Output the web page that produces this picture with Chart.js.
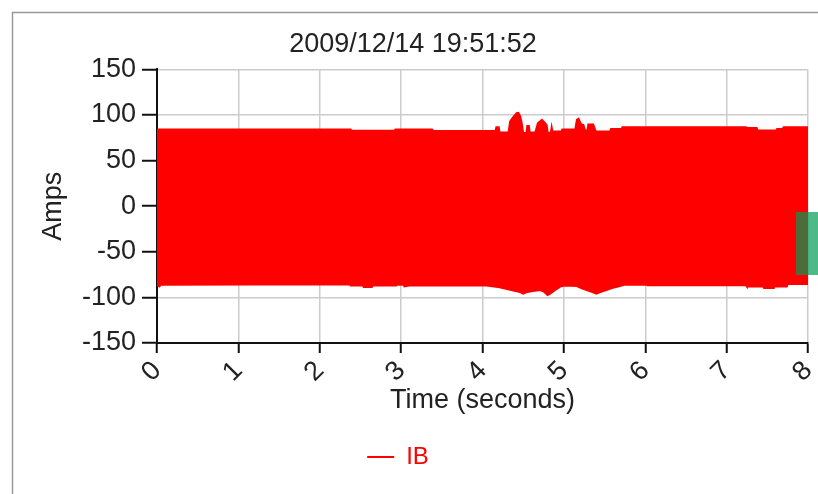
<!DOCTYPE html>
<html>
<head>
<meta charset="utf-8">
<script src="https://cdn.jsdelivr.net/npm/chart.js@4.4.1/dist/chart.umd.min.js"></script>
<style>
  html, body { margin: 0; padding: 0; background: #fff; }
  #wrap { width: 818px; height: 494px; position: relative; }
</style>
</head>
<body>
<div id="wrap"><canvas id="c" width="818" height="494"></canvas></div>
<script>
// ---- data (envelope of the IB current waveform) ----
const chartTitle = '2009/12/14 19:51:52';
const seriesName = 'IB';
const xTickValues = [0, 1, 2, 3, 4, 5, 6, 7, 8];
const yTickValues = [-150, -100, -50, 0, 50, 100, 150];

// upper envelope (positive peaks)
const topTimes  = [0, 2.38, 2.39, 2.92, 2.93, 3.38, 3.39, 4.16, 4.17, 4.20, 4.21, 4.32, 4.34, 4.38, 4.42, 4.44, 4.46, 4.48, 4.50, 4.54, 4.55, 4.57, 4.58, 4.65, 4.68, 4.73, 4.77, 4.79, 4.80, 4.84, 4.85, 4.86, 4.97, 4.98, 5.14, 5.16, 5.18, 5.21, 5.24, 5.26, 5.29, 5.30, 5.36, 5.38, 5.39, 5.57, 5.58, 5.71, 5.72, 7.24, 7.25, 7.37, 7.38, 7.61, 7.62, 7.69, 7.70, 8.0];
const topValues = [84, 84, 82.6, 82.6, 84, 84, 82.5, 82.5, 86.5, 86.5, 80.7, 81, 93, 98, 102, 102.4, 99.4, 92, 80.3, 80.5, 88, 88, 80.5, 81, 91, 94.6, 91, 88.4, 80.5, 80.5, 86.5, 82, 82, 84, 84, 94.6, 95.8, 90, 89, 83, 83, 89.5, 89.5, 84.7, 82, 82, 84.7, 84.7, 86.5, 86.5, 85.8, 85.8, 83, 83, 84.7, 84.7, 86.5, 86.5];

// lower envelope (negative peaks)
const bottomTimes  = [0, 0.03, 0.05, 2.37, 2.38, 2.53, 2.54, 2.64, 2.65, 2.94, 2.95, 3.03, 3.04, 3.10, 3.97, 4.05, 4.21, 4.34, 4.46, 4.50, 4.55, 4.62, 4.71, 4.76, 4.80, 4.83, 4.89, 4.95, 5.00, 5.16, 5.22, 5.28, 5.36, 5.40, 5.45, 5.52, 5.60, 5.69, 5.75, 6.02, 6.03, 7.24, 7.25, 7.45, 7.46, 7.57, 7.58, 7.74, 7.75, 8.0];
const bottomValues = [-86, -88, -86, -85.5, -87, -87, -88.6, -88.6, -87, -87, -86, -86, -88, -87, -87, -87, -89, -91.5, -94, -96, -94, -93, -92, -94, -97.5, -96, -92, -88.5, -87, -87.5, -90, -92, -94.5, -96, -94, -92, -89.5, -87.5, -86, -86, -86.8, -86.8, -88, -88, -89.7, -89.7, -88, -88, -85.3, -85.3];

const FONT = "'Liberation Sans', Arial, sans-serif";
const RED = '#ff0000';

const topPoints = topTimes.map((t, i) => ({ x: t, y: topValues[i] }));
const bottomPoints = bottomTimes.map((t, i) => ({ x: t, y: bottomValues[i] }));

const framePlugin = {
  id: 'frame',
  beforeDraw(chart) {
    const ctx = chart.ctx;
    ctx.save();
    ctx.fillStyle = '#ffffff';
    ctx.fillRect(0, 0, chart.width, chart.height);
    ctx.strokeStyle = '#9a9a9a';
    ctx.lineWidth = 1.5;
    ctx.beginPath();
    ctx.moveTo(12.5, chart.height);
    ctx.lineTo(12.5, 12.5);
    ctx.lineTo(chart.width, 12.5);
    ctx.stroke();
    ctx.restore();
  }
};

// green handle at right edge of the window
const handlePlugin = {
  id: 'handle',
  afterDraw(chart) {
    const ctx = chart.ctx;
    ctx.save();
    ctx.fillStyle = 'rgba(0,155,82,0.7)';
    ctx.fillRect(796, 212, 22, 63);
    ctx.restore();
  }
};

const blockShift = {
  id: 'blockShift',
  afterLayout(chart) {
    if (chart.legend) { chart.legend.left -= 6; chart.legend.right -= 6; }
    if (chart.titleBlock) { chart.titleBlock.left += 9; chart.titleBlock.right += 9; }
  }
};

new Chart(document.getElementById('c'), {
  type: 'line',
  data: {
    datasets: [
      {
        label: seriesName,
        data: topPoints,
        borderColor: RED,
        backgroundColor: RED,
        borderWidth: 2,
        pointRadius: 0,
        tension: 0,
        fill: '+1'
      },
      {
        label: '_lower',
        data: bottomPoints,
        borderColor: RED,
        backgroundColor: RED,
        borderWidth: 2,
        pointRadius: 0,
        tension: 0,
        fill: false
      }
    ]
  },
  options: {
    responsive: false,
    animation: false,
    devicePixelRatio: 1,
    layout: { padding: { left: 0, right: 10, top: 0, bottom: 15 } },
    plugins: {
      title: {
        display: true,
        text: chartTitle,
        color: '#222',
        font: { family: FONT, size: 27, weight: 'normal' },
        padding: { top: 28, bottom: 9 }
      },
      legend: {
        display: true,
        position: 'bottom',
        labels: {
          color: RED,
          font: { family: FONT, size: 24 },
          usePointStyle: true,
          pointStyle: 'line',
          pointStyleWidth: 27,
          padding: 10,
          filter: (item) => item.text === seriesName
        }
      },
      tooltip: { enabled: false }
    },
    scales: {
      x: {
        type: 'linear',
        min: 0,
        max: 8,
        afterBuildTicks: (s) => { s.ticks = xTickValues.map(v => ({ value: v })); },
        afterFit: (s) => { s.height = 92; s.paddingLeft = 0; s.paddingRight = 0; },
        grid: { color: '#cccccc', lineWidth: 1.5, tickColor: '#111', tickLength: 10, tickWidth: 2 },
        border: { color: '#111', width: 2 },
        ticks: {
          color: '#222',
          font: { family: FONT, size: 27 },
          minRotation: 45,
          maxRotation: 45,
          padding: 2
        },
        title: {
          display: true,
          text: 'Time (seconds)',
          color: '#222',
          font: { family: FONT, size: 27 },
          padding: { top: 0, bottom: 18 }
        }
      },
      y: {
        min: -150,
        max: 150,
        afterBuildTicks: (s) => { s.ticks = yTickValues.map(v => ({ value: v })); },
        afterFit: (s) => { s.width = 157; s.paddingTop = 0; s.paddingBottom = 0; },
        grid: { color: '#cccccc', lineWidth: 1.5, tickColor: '#111', tickLength: 15, tickWidth: 2 },
        border: { color: '#111', width: 2 },
        ticks: {
          color: '#222',
          font: { family: FONT, size: 27 },
          padding: 6
        },
        title: {
          display: true,
          text: 'Amps',
          color: '#222',
          font: { family: FONT, size: 27 },
          padding: { top: 37, bottom: 0 }
        }
      }
    }
  },
  plugins: [framePlugin, blockShift, handlePlugin]
});
</script>
</body>
</html>
